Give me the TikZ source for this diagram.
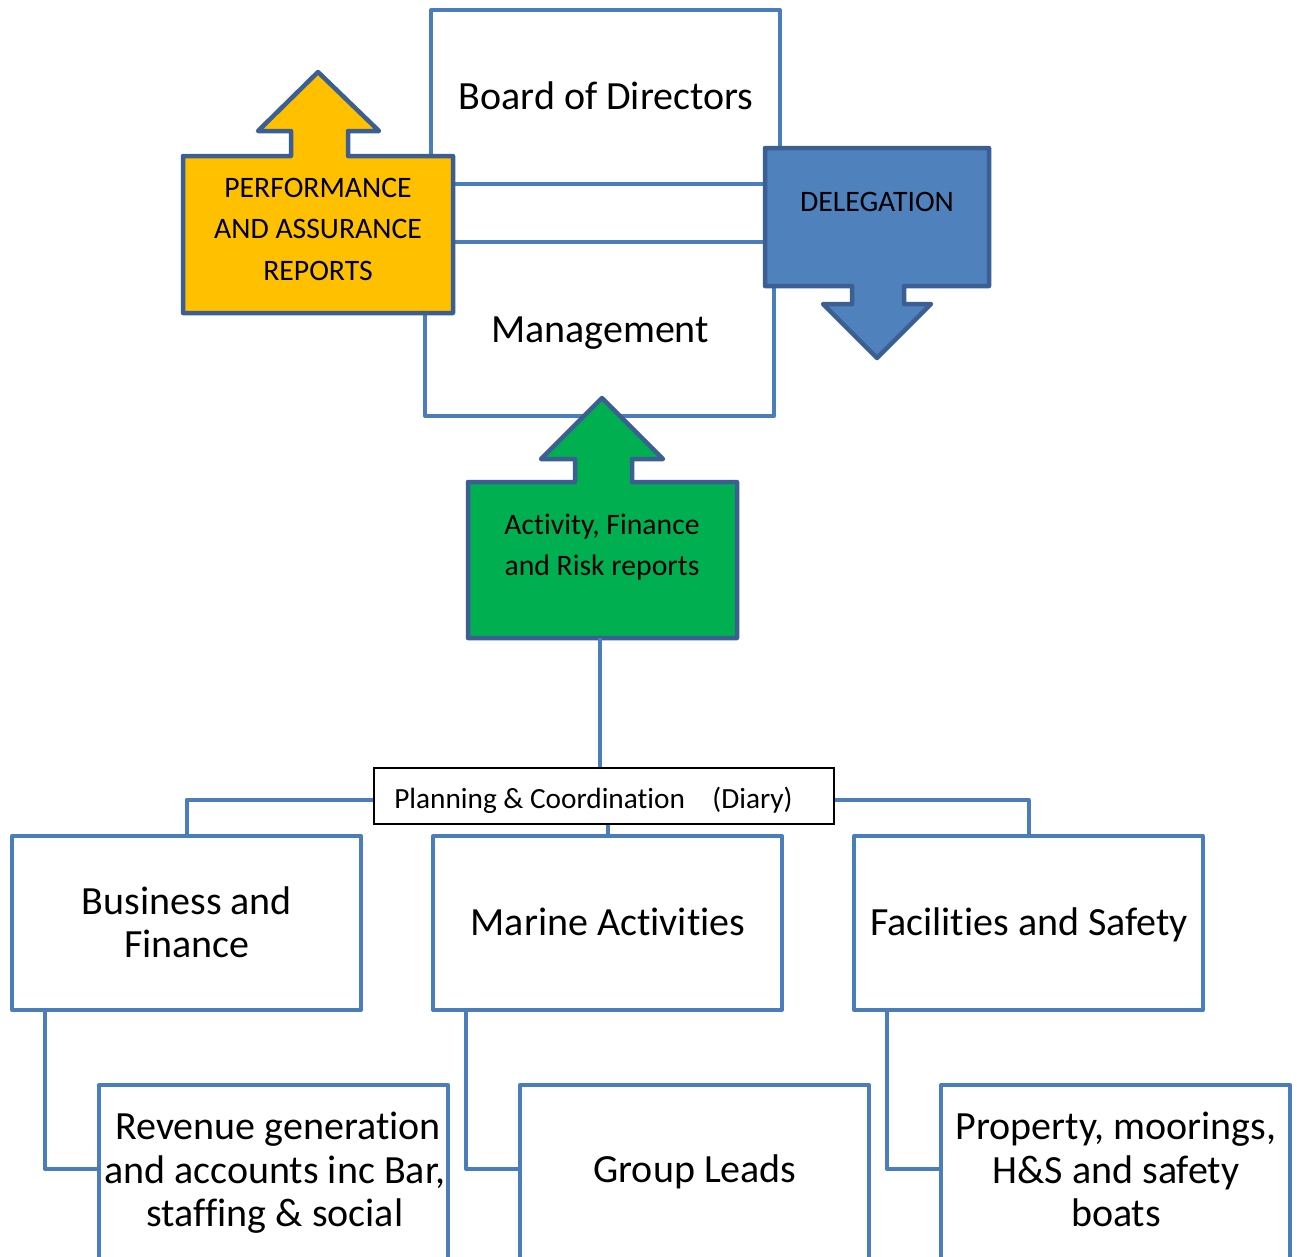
\documentclass[tikz,border=0pt]{standalone}
\usepackage{fontspec}
\setmainfont{Carlito}[Ligatures={NoCommon}]
\definecolor{boxline}{HTML}{4A7EBB}
\definecolor{calloutline}{HTML}{3B5F92}
\definecolor{yellowfill}{HTML}{FFC000}
\definecolor{bluefill}{HTML}{4F81BD}
\definecolor{greenfill}{HTML}{00B050}
\tikzset{
  orgbox/.style={draw=boxline, line width=4pt, fill=white, line join=round, inner sep=0pt},
  conn/.style={draw=boxline, line width=4pt, line join=round},
  callout/.style={draw=calloutline, line width=4.5pt, line join=round},
  bigtxt/.style={font=\fontsize{40}{43.5}\selectfont, align=center, inner sep=0pt},
  smalltxt/.style={font=\fontsize{29.7}{41.5}\selectfont, align=center, inner sep=0pt},
  plantxt/.style={font=\fontsize{29.3}{34}\selectfont, inner sep=0pt},
}
\begin{document}
\begin{tikzpicture}[x=1pt,y=-1pt]
\useasboundingbox (0,0) rectangle (1297,1256);
\clip (0,0) rectangle (1297,1256);
% top boxes
\node[orgbox, minimum width=349pt, minimum height=174pt] (board) at (605.5,97) {};
\node[bigtxt] (boardt) at (606,95.5) {Board of Directors};
\node[orgbox, minimum width=349pt, minimum height=174pt] (mgmt) at (599.5,329) {};
\node[bigtxt] (mgmtt) at (600,333) {Management};
% yellow callout
\draw[callout, fill=yellowfill] (183,156) -- (291,156) -- (291,131) -- (258,131) -- (318,72) -- (379,131) -- (348,131) -- (348,156) -- (453,156) -- (453,313) -- (183,313) -- cycle;
\node[smalltxt] (perf) at (318,229) {PERFORMANCE\\AND ASSURANCE\\REPORTS};
% blue callout
\draw[callout, fill=bluefill] (765,148) -- (989,148) -- (989,286) -- (904,286) -- (904,304) -- (931,304) -- (877,358) -- (823,304) -- (852,304) -- (852,286) -- (765,286) -- cycle;
\node[smalltxt] (deleg) at (877,202) {DELEGATION};
% green callout
\draw[callout, fill=greenfill] (468,482) -- (575,482) -- (575,459) -- (541,459) -- (602,398) -- (663,459) -- (632,459) -- (632,482) -- (737,482) -- (737,638) -- (468,638) -- cycle;
\node[minimum width=264pt, minimum height=156pt, inner sep=0pt] (green) at (600,560) {};
\node[smalltxt] (greent) at (602,547) {Activity, Finance\\and Risk reports};
% planning box
\node[draw=black, line width=1.2pt, fill=white, minimum width=460pt, minimum height=56pt, inner sep=0pt] (plan) at (604,796) {};
\node[plantxt] (plant) at (593.5,800) {Planning \& Coordination\hspace{27.5pt}(Diary)};
% middle boxes
\node[orgbox, minimum width=349pt, minimum height=174pt] (bus) at (186.5,923) {};
\node[bigtxt] (bust) at (187,922) {Business and\\Finance};
\node[orgbox, minimum width=349pt, minimum height=174pt] (mar) at (607.5,923) {};
\node[bigtxt] (mart) at (608,922) {Marine Activities};
\node[orgbox, minimum width=349pt, minimum height=174pt] (fac) at (1028.5,923) {};
\node[bigtxt] (fact) at (1029,925) {Facilities and Safety};
% bottom boxes
\node[orgbox, minimum width=349pt, minimum height=184pt, anchor=north] (rev) at (273.5,1083) {};
\node[bigtxt] (revt) at (275,1173) {\hspace*{6pt}Revenue generation\\and accounts inc Bar,\\staffing \& social};
\node[orgbox, minimum width=349pt, minimum height=184pt, anchor=north] (grp) at (694.5,1083) {};
\node[bigtxt] (grpt) at (695,1172) {Group Leads};
\node[orgbox, minimum width=349pt, minimum height=184pt, anchor=north] (prop) at (1115.5,1083) {};
\node[bigtxt] (propt) at (1116,1169.5) {Property, moorings,\\H\&S and safety\\boats};
% connectors
\draw[conn] (green.south) -- (green.south |- plan.north);
\draw[conn] ([yshift=-4pt]plan.west) -| (bus.north);
\draw[conn] ([yshift=-4pt]plan.east) -| (fac.north);
\draw[conn] (mar.north |- plan.south) -- (mar.north);
\draw[conn] ([xshift=35pt]bus.south west) |- ([yshift=-86pt]rev.north west) coordinate (revin);
\draw[conn] ([xshift=35pt]mar.south west) |- ([yshift=-86pt]grp.north west) coordinate (grpin);
\draw[conn] ([xshift=35pt]fac.south west) |- ([yshift=-86pt]prop.north west) coordinate (propin);
\end{tikzpicture}
\end{document}
